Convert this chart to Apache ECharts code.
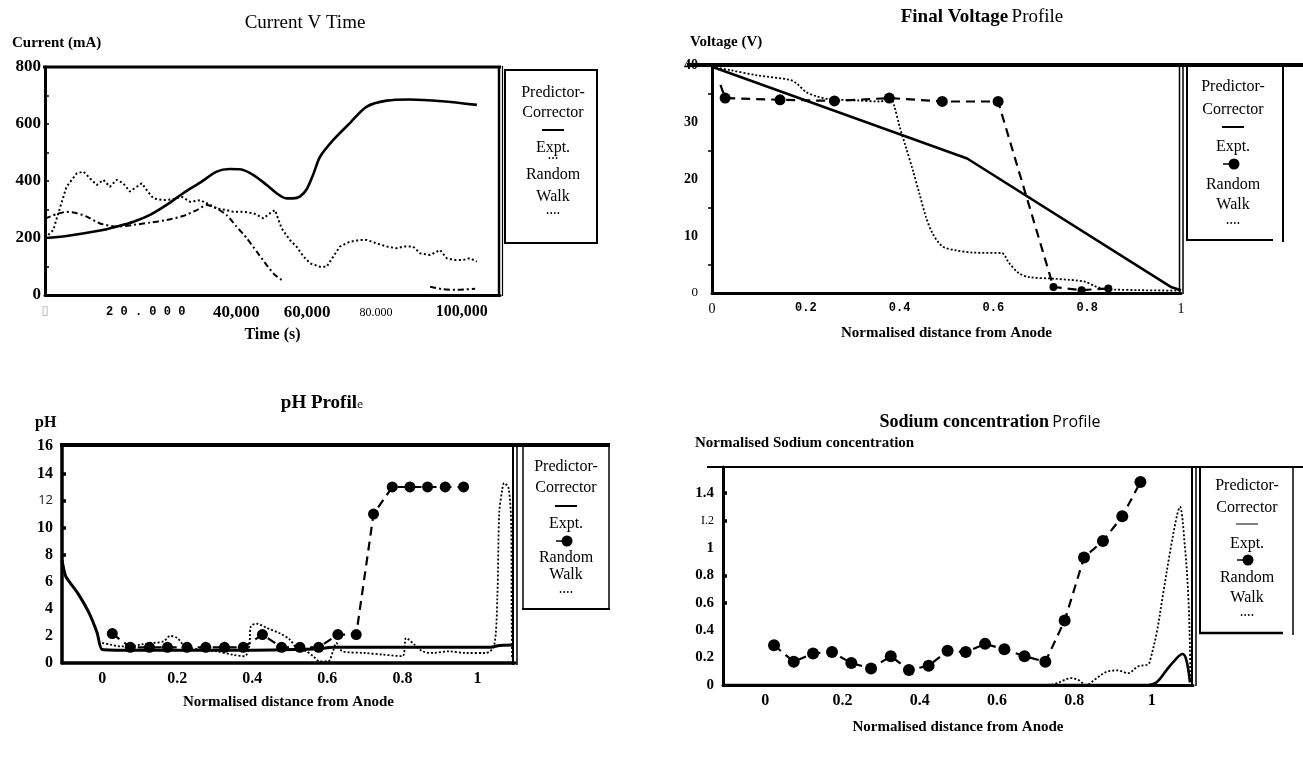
<!DOCTYPE html>
<html><head><meta charset="utf-8">
<script src="https://cdn.jsdelivr.net/npm/echarts@6/dist/echarts.min.js"></script>
<style>html,body{margin:0;padding:0;background:#fff}#c{width:1303px;height:769px}</style>
</head><body><div id="c"></div>
<script>
// ---------------- DATA ----------------
// Panel 1: Current V Time
const timeTicks = [0, 20000, 40000, 60000, 80000, 100000];
const timeTickLabels = ['▯', '2 0 . 0 0 0', '40,000', '60,000', '80.000', '100,000'];
const currentTicks = [0, 200, 400, 600, 800];
const currentTickLabels = ['0', '200', '400', '600', '800'];
const currentPredictor = [[0,200],[5200,207],[13300,226],[17300,240],[21400,257],[25400,281],[29400,316],[33400,357],[37500,394],[41500,433],[44700,442],[47100,441],[50400,421],[53600,386],[56000,357],[58400,339],[60000,339],[61600,345],[63300,372],[64900,425],[66500,485],[69700,544],[73700,603],[77800,661],[82600,682],[88000,686],[96000,680],[104400,667]];
const currentExpt = [[0,200],[2000,228],[3200,286],[5200,380],[7700,427],[9300,433],[10900,409],[12500,386],[14100,404],[15700,380],[17300,404],[18900,392],[20500,363],[22200,380],[23400,392],[24600,368],[26200,339],[28600,333],[31000,336],[33000,345],[35100,327],[37500,333],[39100,322],[41500,304],[43900,298],[45500,292],[47900,292],[50400,287],[52800,269],[54400,287],[55600,298],[57200,234],[59200,193],[60800,170],[62500,135],[64100,111],[66500,99],[68100,99],[69700,135],[71300,170],[73700,187],[76200,193],[77800,193],[80200,181],[82600,170],[85000,164],[86600,170],[89000,170],[90700,146],[93100,140],[95500,158],[97100,129],[98700,123],[101100,123],[102700,129],[104400,117]];
const currentRandomWalk = [[0,268],[2800,284],[5200,292],[7700,287],[10100,275],[13300,251],[17300,240],[21400,246],[25400,254],[29400,263],[33400,277],[36700,298],[39100,316],[41500,304],[43900,281],[46300,240],[48800,199],[51200,152],[53600,105],[55600,70],[57200,53],[75000,'-'],[93100,29],[96300,20],[99500,18],[101900,20],[104000,22]];

// Panel 2: Final Voltage Profile
const voltXTicks = [0, 0.2, 0.4, 0.6, 0.8, 1];
const voltXTickLabels = ['0', '0.2', '0.4', '0.6', '0.8', '1'];
const voltYTicks = [0, 10, 20, 30, 40];
const voltYTickLabels = ['0', '10', '20', '30', '40'];
const voltPredictor = [[0,39.7],[0.544,23.6],[0.98,1.0],[1.0,0.5]];
const voltExpt = [[0.018,36.5],[0.028,34.2],[0.145,33.9],[0.261,33.7],[0.378,34.2],[0.491,33.6],[0.61,33.6],[0.728,1.05],[0.788,0.5],[0.845,0.8]];
const voltRandomWalk = [[0,39.7],[0.039,39.1],[0.095,38.2],[0.166,37.4],[0.18,36.8],[0.2,35.3],[0.223,34.5],[0.25,34.0],[0.307,33.8],[0.357,33.6],[0.382,34.0],[0.389,32.7],[0.4,29.2],[0.413,25.7],[0.428,21.6],[0.442,17.5],[0.456,13.4],[0.47,10.5],[0.491,8.2],[0.519,7.5],[0.555,7.1],[0.618,7.0],[0.633,5.3],[0.654,3.5],[0.675,2.8],[0.731,2.5],[0.795,2.0],[0.816,1.2],[0.837,0.7],[0.859,0.6],[0.908,0.5],[1.0,0.4]];

// Panel 3: pH Profile
const phXTicks = [0, 0.2, 0.4, 0.6, 0.8, 1];
const phXTickLabels = ['0', '0.2', '0.4', '0.6', '0.8', '1'];
const phYTicks = [0, 2, 4, 6, 8, 10, 12, 14, 16];
const phYTickLabels = ['0', '2', '4', '6', '8', '10', '12', '14', '16'];
const phPredictor = [[-0.107,7.6],[-0.097,6.4],[-0.066,5.2],[-0.035,3.7],[-0.013,2.2],[0,1.0],[0.084,0.94],[0.35,0.94],[0.57,1.04],[0.615,1.16],[1.035,1.16],[1.058,1.3],[1.093,1.33]];
const phExptX = [0.027,0.075,0.126,0.174,0.226,0.276,0.326,0.376,0.427,0.478,0.527,0.577,0.628,0.677,0.723,0.773,0.82,0.867,0.914,0.963];
const phExptY = [2.17,1.16,1.16,1.16,1.16,1.16,1.16,1.16,2.1,1.16,1.16,1.16,2.1,2.1,11.0,13.0,13.0,13.0,13.0,13.0];
const phRandomWalk = [[0,1.48],[0.022,1.36],[0.049,1.23],[0.075,1.23],[0.102,1.36],[0.137,1.48],[0.164,1.6],[0.181,2.0],[0.2,1.85],[0.221,1.23],[0.261,1.0],[0.305,0.86],[0.35,0.6],[0.38,0.5],[0.392,1.23],[0.396,2.7],[0.412,2.9],[0.438,2.6],[0.473,2.2],[0.5,1.73],[0.518,1.1],[0.544,0.86],[0.562,0.5],[0.58,0.12],[0.602,0.12],[0.615,0.86],[0.624,1.48],[0.64,0.86],[0.7,0.74],[0.748,0.62],[0.8,0.5],[0.81,1.85],[0.832,1.36],[0.854,0.86],[0.88,0.74],[0.925,0.86],[0.97,0.74],[1.022,0.74],[1.044,1.23],[1.053,4.9],[1.058,11.1],[1.066,12.8],[1.071,13.3],[1.083,12.9],[1.09,10],[1.091,4],[1.092,0.3]];

// Panel 4: Sodium concentration Profile
const naXTicks = [0, 0.2, 0.4, 0.6, 0.8, 1];
const naXTickLabels = ['0', '0.2', '0.4', '0.6', '0.8', '1'];
const naYTicks = [0, 0.2, 0.4, 0.6, 0.8, 1, 1.2, 1.4];
const naYTickLabels = ['0', '0.2', '0.4', '0.6', '0.8', '1', 'I.2', '1.4'];
const naPredictor = [[-0.109,0],[0.99,0],[1.013,0.02],[1.039,0.11],[1.06,0.18],[1.08,0.226],[1.09,0.18],[1.099,0.02]];
const naExptX = [0.023,0.074,0.124,0.173,0.223,0.274,0.325,0.372,0.423,0.472,0.519,0.569,0.619,0.671,0.725,0.775,0.825,0.874,0.924,0.971];
const naExptY = [0.29,0.17,0.23,0.24,0.16,0.12,0.21,0.11,0.14,0.25,0.24,0.30,0.26,0.21,0.17,0.47,0.93,1.05,1.23,1.48];
const naRandomWalk = [[0.72,0],[0.749,0.007],[0.792,0.05],[0.81,0.037],[0.831,0.0],[0.853,0.04],[0.887,0.1],[0.913,0.106],[0.939,0.086],[0.965,0.136],[0.991,0.15],[0.996,0.18],[1.013,0.38],[1.03,0.67],[1.047,0.96],[1.065,1.23],[1.073,1.3],[1.086,1.01],[1.095,0.64],[1.099,0.28],[1.1,0.04]];

// ---------------- LAYOUT ----------------
const SERIF = '"Liberation Serif", "DejaVu Serif", serif';
const G = [
  {left:45, top:67, width:455, height:228},
  {left:712, top:65, width:469, height:228},
  {left:62, top:445, width:453, height:218},
  {left:723, top:467, width:470, height:218}
];
const zip = (xs, ys) => xs.map((x, i) => [x, ys[i]]);
const idxOf = (ticks, v) => ticks.findIndex(t => Math.abs(t - v) < 1e-6);

const chart = echarts.init(document.getElementById('c'), null, {renderer:'canvas'});

const axisLine = w => ({show:true, onZero:false, lineStyle:{color:'#000', width:w}});
const noSplit = {show:false};

const xAxes = [
  {gridIndex:0, type:'value', min:0, max:110000, interval:20000, axisLine:axisLine(3), axisTick:{show:false}, splitLine:noSplit,
   name:'Time (s)', nameLocation:'middle', nameGap:32, nameTextStyle:{fontFamily:SERIF, fontWeight:'bold', fontSize:16, color:'#000'},
   axisLabel:{margin:9, color:'#000', formatter:v => { const i = idxOf(timeTicks, v); return i < 0 ? '' : '{t' + i + '|' + timeTickLabels[i] + '}'; },
     rich:{
       t0:{fontFamily:'DejaVu Sans', fontSize:13, color:'#aaa'},
       t1:{fontFamily:'"Liberation Mono", monospace', fontWeight:'bold', fontSize:12, color:'#000', padding:[2,0,0,36]},
       t2:{fontFamily:SERIF, fontWeight:'bold', fontSize:17, color:'#000', padding:[0,0,0,52]},
       t3:{fontFamily:SERIF, fontWeight:'bold', fontSize:17, color:'#000', padding:[0,0,0,28]},
       t4:{fontFamily:SERIF, fontSize:12, color:'#000', padding:[3,0,0,0]},
       t5:{fontFamily:SERIF, fontWeight:'bold', fontSize:16, color:'#000', padding:[0,0,0,6]}
     }}},
  {gridIndex:1, type:'value', min:0, max:1, interval:0.2, axisLine:axisLine(3), axisTick:{show:false}, splitLine:noSplit,
   name:'Normalised distance from Anode', nameLocation:'middle', nameGap:33, nameTextStyle:{fontFamily:SERIF, fontWeight:'bold', fontSize:15, color:'#000'},
   axisLabel:{margin:9, color:'#000', formatter:v => { const i = idxOf(voltXTicks, v); if (i < 0) return ''; const k = (i === 0 || i === 5) ? 'e' : 'm'; return '{' + k + '|' + voltXTickLabels[i] + '}'; },
     rich:{ m:{fontFamily:'"Liberation Mono", monospace', fontWeight:'bold', fontSize:12, color:'#000'}, e:{fontFamily:SERIF, fontSize:14, color:'#000'} }}},
  {gridIndex:2, type:'value', min:-0.107, max:1.1, axisLine:axisLine(3.5), axisTick:{show:false}, splitLine:noSplit,
   name:'Normalised distance from Anode', nameLocation:'middle', nameGap:32, nameTextStyle:{fontFamily:SERIF, fontWeight:'bold', fontSize:15, color:'#000'},
   axisLabel:{margin:8, color:'#000', fontFamily:SERIF, fontWeight:'bold', fontSize:16, customValues:phXTicks,
     formatter:v => { const i = idxOf(phXTicks, v); return i < 0 ? '' : phXTickLabels[i]; }}},
  {gridIndex:3, type:'value', min:-0.109, max:1.107, axisLine:axisLine(3), axisTick:{show:false}, splitLine:noSplit,
   name:'Normalised distance from Anode', nameLocation:'middle', nameGap:35, nameTextStyle:{fontFamily:SERIF, fontWeight:'bold', fontSize:15, color:'#000'},
   axisLabel:{margin:8, color:'#000', fontFamily:SERIF, fontWeight:'bold', fontSize:16, customValues:naXTicks,
     formatter:v => { const i = idxOf(naXTicks, v); return i < 0 ? '' : naXTickLabels[i]; }}}
];

const yAxes = [
  {gridIndex:0, type:'value', min:0, max:800, interval:200, axisLine:axisLine(3), splitLine:noSplit,
   axisTick:{show:true, inside:true, length:4, lineStyle:{color:'#000', width:1.5}},
   minorTick:{show:true, splitNumber:2, length:4, lineStyle:{color:'#000', width:1.5}},
   axisLabel:{margin:4, color:'#000', fontFamily:SERIF, fontWeight:'bold', fontSize:17,
     formatter:v => { const i = idxOf(currentTicks, v); return i < 0 ? '' : currentTickLabels[i]; }}},
  {gridIndex:1, type:'value', min:0, max:40, interval:10, axisLine:axisLine(3), splitLine:noSplit,
   axisTick:{show:false},
   minorTick:{show:true, splitNumber:2, length:4, lineStyle:{color:'#000', width:1.5}},
   axisLabel:{margin:14, color:'#000', formatter:v => { const i = idxOf(voltYTicks, v); if (i < 0) return ''; return (i === 0 ? '{z|' : '{b|') + voltYTickLabels[i] + '}'; },
     rich:{ b:{fontFamily:SERIF, fontWeight:'bold', fontSize:14, color:'#000'}, z:{fontFamily:SERIF, fontSize:13, color:'#000'} }}},
  {gridIndex:2, type:'value', min:0, max:16.1, axisLine:axisLine(3.5), splitLine:noSplit,
   axisTick:{show:true, inside:true, length:4, customValues:[8,10,12,14], lineStyle:{color:'#000', width:3.5}},
   axisLabel:{margin:9, color:'#000', customValues:phYTicks,
     formatter:v => { const i = idxOf(phYTicks, v); if (i < 0) return ''; return (i === 6 ? '{s|' : '{b|') + phYTickLabels[i] + '}'; },
     rich:{ b:{fontFamily:SERIF, fontWeight:'bold', fontSize:16, color:'#000'}, s:{fontFamily:'"Open Sans", sans-serif', fontSize:13, color:'#222'} }}},
  {gridIndex:3, type:'value', min:0, max:1.59, axisLine:axisLine(3), splitLine:noSplit,
   axisTick:{show:true, inside:true, length:4, customValues:[0.6,0.8,1.2,1.4], lineStyle:{color:'#000', width:3.5}},
   axisLabel:{margin:9, color:'#000', customValues:naYTicks,
     formatter:v => { const i = idxOf(naYTicks, v); if (i < 0) return ''; return (i === 6 ? '{s|' : '{b|') + naYTickLabels[i] + '}'; },
     rich:{ b:{fontFamily:SERIF, fontWeight:'bold', fontSize:15, color:'#000'}, s:{fontFamily:SERIF, fontSize:12, color:'#000'} }}}
];

const solid = (name, gi, data, w, smooth) => ({name, type:'line', xAxisIndex:gi, yAxisIndex:gi, data, symbol:'none', smooth:smooth || false,
  lineStyle:{color:'#000', width:w, type:'solid'}, z:3, silent:true});
const styled = (name, gi, data, w, type, smooth) => ({name, type:'line', xAxisIndex:gi, yAxisIndex:gi, data, symbol:'none', smooth:smooth || false,
  connectNulls:false, lineStyle:{color:'#000', width:w, type}, z:2, silent:true});
const expt = (name, gi, data, size) => ({name, type:'line', xAxisIndex:gi, yAxisIndex:gi, data, symbol:'circle', showSymbol:true, showAllSymbol:true,
  symbolSize:size, itemStyle:{color:'#000'}, lineStyle:{color:'#000', width:2.2, type:[9,6]}, z:4, silent:true});

const series = [
  solid('Predictor-Corrector', 0, currentPredictor, 2.6, 0.3),
  styled('Expt.', 0, currentExpt, 2, [2,2.5], false),
  styled('Random Walk', 0, currentRandomWalk, 2, [6,3,2,3], 0.2),

  solid('Predictor-Corrector', 1, voltPredictor, 2.6),
  expt('Expt.', 1, voltExpt, (v, p) => p.dataIndex === 0 ? 0 : (v[1] < 2 ? 8 : 11)),
  styled('Random Walk', 1, voltRandomWalk, 1.8, [2,2], 0.3),

  solid('Predictor-Corrector', 2, phPredictor, 3, 0.2),
  expt('Expt.', 2, zip(phExptX, phExptY), 11),
  styled('Random Walk', 2, phRandomWalk, 1.8, [2,2], 0.3),

  solid('Predictor-Corrector', 3, naPredictor, 2.6, 0.4),
  expt('Expt.', 3, zip(naExptX, naExptY), 12),
  styled('Random Walk', 3, naRandomWalk, 1.8, [2,2], 0.35)
];

// ---------------- GRAPHIC (titles, frames, legends) ----------------
const Z = 100;
const text = (t, x, y, font, extra) => Object.assign({type:'text', z:Z, silent:true, style:Object.assign({text:t, x, y, font, fill:'#000',
  textAlign:'center', textVerticalAlign:'middle', align:'center', verticalAlign:'middle'}, extra || {})});
const richText = (t, x, y, rich) => ({type:'text', z:Z, silent:true, style:{text:t, x, y, rich, fill:'#000',
  textAlign:'center', textVerticalAlign:'middle', align:'center', verticalAlign:'middle'}});
const line = (x1, y1, x2, y2, w) => ({type:'line', z:Z, silent:true, shape:{x1, y1, x2, y2}, style:{stroke:'#000', lineWidth:w}});
const dot = (cx, cy, r) => ({type:'circle', z:Z, silent:true, shape:{cx, cy, r}, style:{fill:'#000'}});

function legendBlock(cx, ys, exptDots, solidW) {
  const f = '16px ' + SERIF;
  const els = [text('Predictor-', cx, ys[0], f), text('Corrector', cx, ys[1], f), line(cx - 11, ys[2], cx + 11, ys[2], solidW), text('Expt.', cx, ys[3], f)];
  const dots = (y, n) => { for (let i = 0; i < n; i++) els.push(dot(cx + (i - (n - 1) / 2) * 3.6, y, 0.9)); };
  if (exptDots) dots(ys[4], 3); else { els.push(line(cx - 10, ys[4], cx, ys[4], 1.5)); els.push(dot(cx + 1, ys[4], 5.5)); }
  els.push(text('Random', cx, ys[5], f), text('Walk', cx, ys[6], f));
  dots(ys[7], 4);
  return els;
}

const graphic = [
  // titles
  text('Current V Time', 305, 23, '19px ' + SERIF),
  richText('{b|Final Voltage} {r|Profile}', 982, 17, {b:{fontFamily:SERIF, fontWeight:'bold', fontSize:19, color:'#000'}, r:{fontFamily:SERIF, fontSize:19, color:'#000'}}),
  richText('{b|pH Profil}{e|e}', 322, 403, {b:{fontFamily:SERIF, fontWeight:'bold', fontSize:19, color:'#000'}, e:{fontFamily:'"Open Sans", sans-serif', fontSize:11, color:'#888', padding:[4,0,0,0]}}),
  richText('{b|Sodium concentration} {r|Profile}', 990, 422, {b:{fontFamily:SERIF, fontWeight:'bold', fontSize:18, color:'#000'}, r:{fontFamily:'"Open Sans", sans-serif', fontSize:16, color:'#777'}}),
  // y-axis names
  text('Current (mA)', 12, 43, 'bold 15px ' + SERIF, {textAlign:'left', align:'left'}),
  text('Voltage (V)', 690, 42, 'bold 15px ' + SERIF, {textAlign:'left', align:'left'}),
  text('pH', 35, 423, 'bold 16px ' + SERIF, {textAlign:'left', align:'left'}),
  text('Normalised Sodium concentration', 695, 443, 'bold 15px ' + SERIF, {textAlign:'left', align:'left'}),

  // panel 1 frame + legend box
  line(43, 67, 501, 67, 3),
  line(499, 66, 499, 296, 2.5), line(502.5, 66, 502.5, 296, 1.2),
  {type:'rect', z:Z, silent:true, shape:{x:505, y:70, width:92, height:173}, style:{fill:'none', stroke:'#000', lineWidth:2}},

  // panel 2 frame + legend
  line(687, 65, 1303, 65, 4),
  line(1179.5, 65, 1179.5, 294, 1.5), line(1183, 65, 1183, 294, 1.5),
  line(1187, 65, 1187, 241, 2), line(1186, 240, 1273, 240, 2), line(1283, 65, 1283, 242, 2),

  // panel 3 frame + legend
  line(60, 445, 610, 445, 4),
  line(513, 445, 513, 665, 2), line(517, 445, 517, 665, 1.5),
  line(523, 445, 523, 610, 1.5), line(609, 445, 609, 610, 1.5), line(522, 609, 610, 609, 2),

  // panel 4 frame + legend
  line(707, 467, 1303, 467, 2),
  line(1192, 467, 1192, 686, 2), line(1196, 467, 1196, 686, 1.5),
  line(1200, 467, 1200, 634, 2), line(1293, 467, 1293, 635, 1.5), line(1199, 633, 1283, 633, 2.5)
].concat(
  legendBlock(553, [93,113,130,148,158,175,197,213], true, 2),
  legendBlock(1233, [87,110,127,147,164,185,205,223], false, 2),
  legendBlock(566, [467,488,506,524,541,558,575,592], false, 2),
  legendBlock(1247, [486,508,524,544,560,578,598,615], false, 1)
);

chart.setOption({
  animation:false,
  backgroundColor:'#fff',
  grid:G.map(g => Object.assign({containLabel:false, show:false}, g)),
  xAxis:xAxes,
  yAxis:yAxes,
  series,
  graphic
});
</script></body></html>
